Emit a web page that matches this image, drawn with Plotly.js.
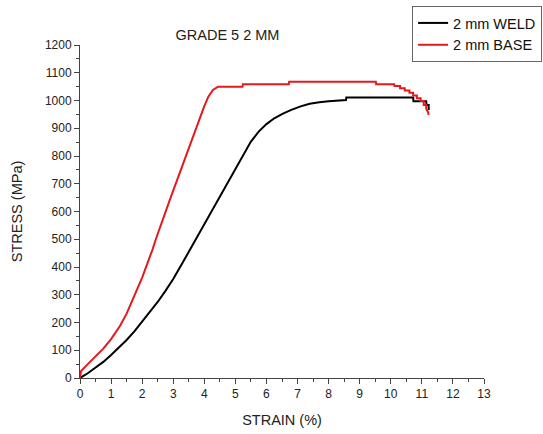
<!DOCTYPE html>
<html>
<head>
<meta charset="utf-8">
<script src="https://cdn.plot.ly/plotly-3.0.1.min.js"></script>
<style>html,body{margin:0;padding:0;background:#fff;}#chart{width:543px;height:434px;}</style>
</head>
<body>
<div id="chart"></div>
<script>
// 2 mm WELD (black)
const weldStrain = [0, 0.25, 0.48, 0.75, 1.0, 1.25, 1.5, 1.75, 2.0, 2.25, 2.5, 2.75, 3.0, 3.25, 3.5, 3.75, 4.0, 4.39, 4.75, 5.0, 5.25, 5.5, 5.75, 6.0, 6.25, 6.53, 6.8, 7.1, 7.39, 7.7, 8.0, 8.47, 8.56, 8.57, 10.72, 10.73, 11.14, 11.15, 11.22, 11.22];
const weldStress = [0, 17, 36, 58, 83, 109, 137, 168, 202, 237, 274, 314, 357, 405, 455, 505, 553, 635, 705, 757, 807, 852, 888, 915, 936, 953, 966, 979, 988, 994, 997, 1001, 1002, 1011, 1011, 997, 997, 984, 984, 966];
// 2 mm BASE (red)
const baseStrain = [0, 0.03, 0.25, 0.48, 0.75, 1.0, 1.29, 1.5, 1.77, 2.0, 2.33, 2.44, 2.89, 3.43, 3.8, 4.0, 4.13, 4.28, 4.44, 5.23, 5.24, 6.72, 6.73, 9.52, 9.53, 10.11, 10.12, 10.3, 10.3, 10.45, 10.45, 10.6, 10.6, 10.72, 10.72, 10.84, 10.84, 10.96, 10.96, 11.06, 11.06, 11.14, 11.14, 11.2, 11.22];
const baseStress = [0, 24, 50, 77, 106, 140, 188, 232, 300, 362, 462, 500, 642, 810, 925, 980, 1014, 1038, 1050, 1050, 1059, 1059, 1068, 1068, 1059, 1059, 1052, 1052, 1044, 1044, 1036, 1036, 1028, 1028, 1018, 1018, 1008, 1008, 998, 998, 984, 984, 970, 958, 948];

const chartTitle = 'GRADE 5 2 MM';
const xTitle = 'STRAIN (%)';
const yTitle = 'STRESS (MPa)';
const seriesNames = ['2 mm WELD', '2 mm BASE'];

const font = 'Liberation Sans, Arial, sans-serif';

const traces = [
  {x: weldStrain, y: weldStress, name: seriesNames[0], type: 'scatter', mode: 'lines',
   line: {color: '#000000', width: 2}},
  {x: baseStrain, y: baseStress, name: seriesNames[1], type: 'scatter', mode: 'lines',
   line: {color: '#e3191c', width: 2}}
];

const axisCommon = {
  showgrid: false, zeroline: false, showline: true, linecolor: '#444', linewidth: 1,
  ticks: 'outside', ticklen: 5, tickcolor: '#444', tickwidth: 1,
  tickfont: {family: font, size: 12, color: '#222'},
  mirror: false
};

const layout = {
  width: 543, height: 434,
  margin: {l: 80, r: 59, t: 45, b: 56, autoexpand: false},
  paper_bgcolor: '#fff', plot_bgcolor: '#fff',
  font: {family: font, color: '#222'},
  title: {text: chartTitle, font: {family: font, size: 14.5, color: '#222'},
          x: 0.365, xref: 'paper', xanchor: 'center', y: 1 - 35/434, yanchor: 'middle'},
  xaxis: Object.assign({}, axisCommon, {
    range: [0, 13], dtick: 1, tick0: 0,
    minor: {dtick: 0.5, ticks: 'outside', ticklen: 3, tickcolor: '#444'},
    title: {text: xTitle, font: {family: font, size: 14.5, color: '#222'}, standoff: 14}
  }),
  yaxis: Object.assign({}, axisCommon, {
    range: [0, 1200], dtick: 100, tick0: 0,
    minor: {dtick: 50, ticks: 'outside', ticklen: 3, tickcolor: '#444'},
    title: {text: yTitle, font: {family: font, size: 14.5, color: '#222'}, standoff: 18}
  }),
  showlegend: true,
  legend: {x: 0.822, xref: 'paper', xanchor: 'left', y: 1 + 39/333, yanchor: 'top',
           bgcolor: '#fff', bordercolor: '#666', borderwidth: 1,
           font: {family: font, size: 14.5, color: '#111'}, tracegroupgap: 0, itemwidth: 30}
};

Plotly.newPlot('chart', traces, layout, {staticPlot: true, displayModeBar: false});
</script>
</body>
</html>
